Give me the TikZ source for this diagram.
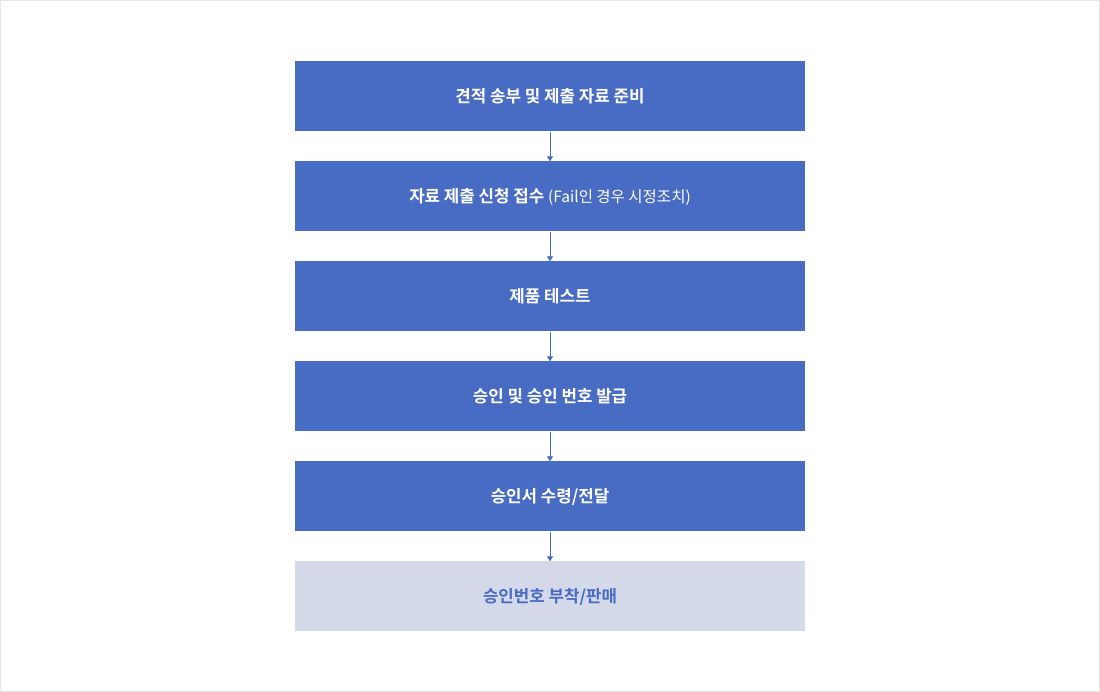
\documentclass[tikz,border=0pt]{standalone}
\usepackage{fontspec}
\setmainfont{Noto Sans CJK KR}
\newfontfamily\krb{Noto Sans CJK KR Bold}
\newfontfamily\krr{Noto Sans CJK KR}
\usetikzlibrary{arrows.meta}
\definecolor{boxblue}{RGB}{72,107,196}
\definecolor{boxlight}{RGB}{211,217,232}
\definecolor{frame}{RGB}{229,229,229}
\tikzset{
  stepbox/.style={draw=none, fill=boxblue, text=white, minimum width=510pt, minimum height=70pt, inner sep=0pt, font=\krb\fontsize{16.8}{19}\selectfont},
  lastbox/.style={stepbox, fill=boxlight, text=boxblue},
  conn/.style={draw=boxblue, line width=0.9pt, -{Triangle[length=5pt,width=6pt]}, shorten >=0pt}
}
\begin{document}
\begin{tikzpicture}[x=1pt,y=1pt]
\useasboundingbox (0,0) rectangle (1100,692);
\draw[frame, line width=1pt] (0.5,0.5) rectangle (1099.5,691.5);
\node[stepbox] (s1) at (550,692-96.5) {견적 송부 및 제출 자료 준비};
\node[stepbox] (s2) at (550,692-196.5) {자료 제출 신청 접수 {\krr\fontsize{15.5}{19}\selectfont (Fail인 경우 시정조치)}};
\node[stepbox] (s3) at (550,692-296.5) {제품 테스트};
\node[stepbox] (s4) at (550,692-396.5) {승인 및 승인 번호 발급};
\node[stepbox] (s5) at (550,692-496.5) {승인서 수령/전달};
\node[lastbox] (s6) at (550,692-596.5) {승인번호 부착/판매};
\foreach \a/\b in {s1/s2,s2/s3,s3/s4,s4/s5,s5/s6}
  \draw[conn] (\a.south) -- (\b.north);
\end{tikzpicture}
\end{document}
